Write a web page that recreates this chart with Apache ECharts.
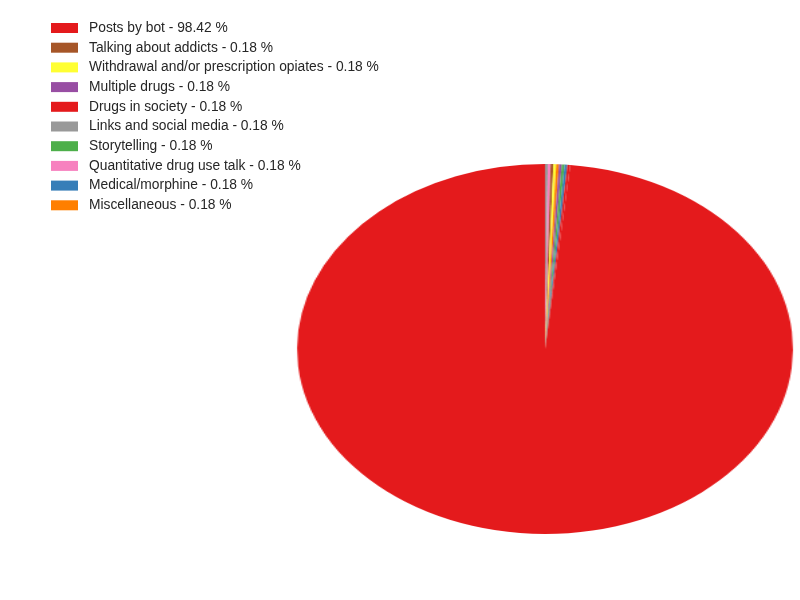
<!DOCTYPE html>
<html>
<head>
<meta charset="utf-8">
<script src="https://cdn.jsdelivr.net/npm/echarts@6/dist/echarts.min.js"></script>
<style>
html,body{margin:0;padding:0;background:#fff;}
#pie{position:absolute;left:0;top:0;width:800px;height:600px;transform-origin:545px 349px;transform:scaleX(1.3405);}
#leg{position:absolute;left:0;top:0;width:800px;height:600px;}
</style>
</head>
<body>
<div id="pie"></div>
<div id="leg"></div>
<script>
// legend order (as shown)
const categories = [
  "Posts by bot",
  "Talking about addicts",
  "Withdrawal and/or prescription opiates",
  "Multiple drugs",
  "Drugs in society",
  "Links and social media",
  "Storytelling",
  "Quantitative drug use talk",
  "Medical/morphine",
  "Miscellaneous"
];
const percents = [98.42, 0.18, 0.18, 0.18, 0.18, 0.18, 0.18, 0.18, 0.18, 0.18];
const colors = ["#e41a1c","#a65628","#ffff33","#984ea3","#e41a1c","#999999","#4daf4a","#f781bf","#377eb8","#ff7f00"];
// slice order, clockwise from the top
const sliceOrder = [
  "Links and social media",
  "Quantitative drug use talk",
  "Talking about addicts",
  "Withdrawal and/or prescription opiates",
  "Miscellaneous",
  "Multiple drugs",
  "Storytelling",
  "Medical/morphine",
  "Drugs in society",
  "Posts by bot"
];

const labelOf = (i) => categories[i] + " - " + percents[i].toFixed(2) + " %";

const sliceData = sliceOrder.map(n => {
  const i = categories.indexOf(n);
  return { name: labelOf(i), value: percents[i], itemStyle: { color: colors[i] } };
});

const pie = echarts.init(document.getElementById('pie'), null, {renderer:'canvas'});
pie.setOption({
  animation: false,
  series: [{
    type: 'pie',
    center: [545, 349],
    radius: [0, 185],
    startAngle: 90,
    clockwise: true,
    label: { show: false },
    labelLine: { show: false },
    emphasis: { disabled: true },
    itemStyle: { borderWidth: 0 },
    data: sliceData
  }]
});

const leg = echarts.init(document.getElementById('leg'), null, {renderer:'canvas'});
leg.setOption({
  animation: false,
  legend: {
    orient: 'vertical',
    left: 51,
    top: 20,
    padding: 0,
    itemWidth: 27,
    itemHeight: 10,
    itemGap: 3.7,
    icon: 'rect',
    selectedMode: false,
    data: categories.map((c, i) => ({ name: labelOf(i), itemStyle: { color: colors[i] } })),
    textStyle: { fontFamily: 'Liberation Sans, Arial, sans-serif', fontSize: 13.8, color: '#262626', lineHeight: 16, padding: [0,0,0,6] }
  },
  series: [{
    type: 'pie',
    center: [-500, -500],
    radius: [0, 1],
    silent: true,
    label: { show: false },
    labelLine: { show: false },
    data: categories.map((c, i) => ({ name: labelOf(i), value: percents[i], itemStyle: { color: colors[i] } }))
  }]
});
</script>
</body>
</html>
